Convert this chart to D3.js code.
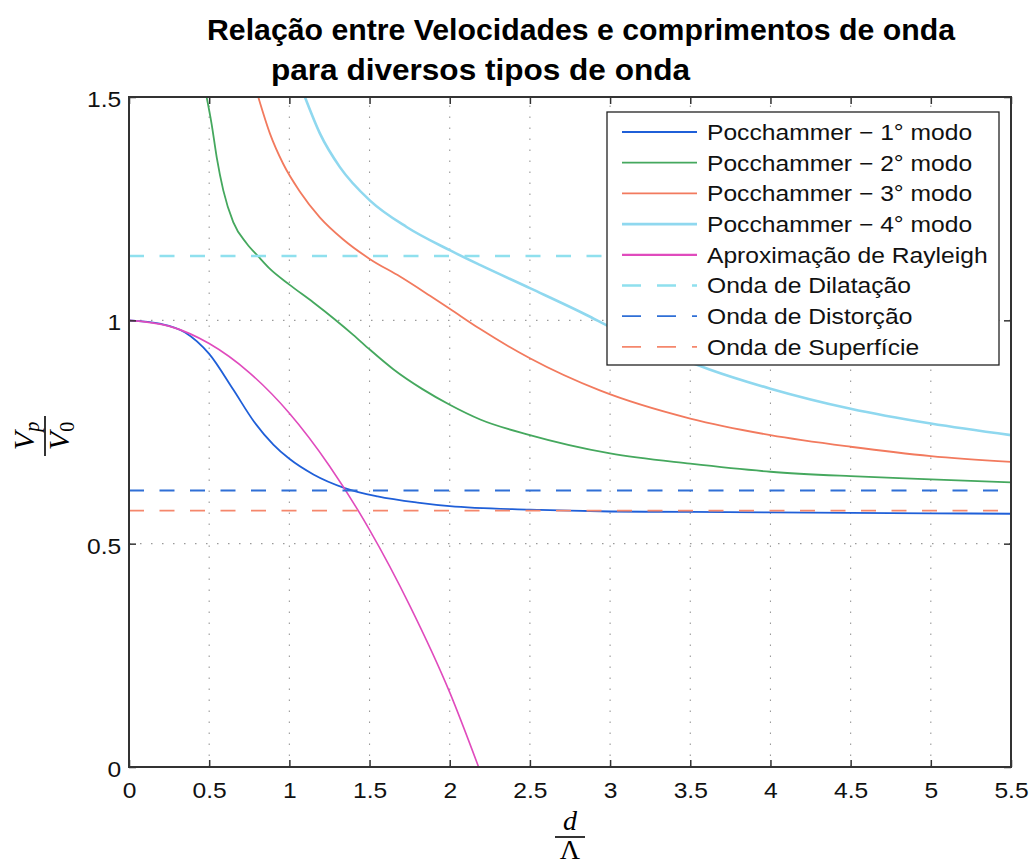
<!DOCTYPE html>
<html>
<head>
<meta charset="utf-8">
<script src="https://cdn.jsdelivr.net/npm/d3@7"></script>
<style>
  body { margin: 0; background: #fff; }
  svg { display: block; }
</style>
</head>
<body>
<svg id="chart" width="1034" height="866"></svg>
<script>
// ---- data: phase velocity ratio Vp/V0 against d/Λ ----
const xTickValues = [0, 0.5, 1, 1.5, 2, 2.5, 3, 3.5, 4, 4.5, 5, 5.5];
const xTickLabels = ["0", "0.5", "1", "1.5", "2", "2.5", "3", "3.5", "4", "4.5", "5", "5.5"];
const yTickValues = [0, 0.5, 1, 1.5];
const yTickLabels = ["0", "0.5", "1", "1.5"];

// Pochhammer modes
const mode1X = [0, 0.2, 0.35, 0.5, 0.65, 0.78, 0.9, 1.0, 1.15, 1.35, 1.55, 1.8, 2.0, 2.5, 3.0, 3.5, 4.0, 4.5, 5.0, 5.5];
const mode1Y = [1.0, 0.992, 0.973, 0.925, 0.845, 0.773, 0.722, 0.690, 0.655, 0.624, 0.606, 0.592, 0.584, 0.576, 0.572, 0.571, 0.570, 0.569, 0.568, 0.567];

const mode2X = [0.484, 0.515, 0.547, 0.588, 0.65, 0.734, 0.806, 0.879, 1.0, 1.15, 1.284, 1.4, 1.5, 1.65, 1.83, 2.0, 2.19, 2.5, 3.0, 3.5, 4.0, 4.5, 5.0, 5.5];
const mode2Y = [1.5, 1.44, 1.365, 1.291, 1.220, 1.172, 1.143, 1.115, 1.080, 1.040, 1.002, 0.967, 0.935, 0.890, 0.846, 0.811, 0.778, 0.743, 0.702, 0.679, 0.661, 0.651, 0.644, 0.637];

const mode3X = [0.806, 0.879, 0.962, 1.066, 1.191, 1.336, 1.503, 1.69, 1.877, 2.0, 2.188, 2.5, 2.936, 3.5, 4.0, 4.5, 5.0, 5.5];
const mode3Y = [1.5, 1.418, 1.350, 1.288, 1.230, 1.181, 1.137, 1.098, 1.055, 1.026, 0.981, 0.915, 0.843, 0.780, 0.743, 0.717, 0.696, 0.683];

const mode4X = [1.097, 1.191, 1.315, 1.503, 1.731, 2.0, 2.188, 2.5, 2.853, 3.0, 3.25, 3.5, 3.62, 4.0, 4.5, 5.0, 5.5];
const mode4Y = [1.5, 1.418, 1.343, 1.268, 1.209, 1.157, 1.124, 1.072, 1.012, 0.985, 0.943, 0.906, 0.890, 0.847, 0.802, 0.769, 0.743];

// Rayleigh approximation
const rayleighX = [0, 0.25, 0.5, 0.75, 1.0, 1.25, 1.5, 1.75, 2.0, 2.18];
const rayleighY = [1.0, 0.987, 0.948, 0.883, 0.792, 0.674, 0.531, 0.362, 0.167, 0.0];

// bulk wave levels
const dilatacaoLevel = 1.144;
const distorcaoLevel = 0.619;
const superficieLevel = 0.574;

const seriesLabels = [
  "Pocchammer \u2212 1\u00b0 modo",
  "Pocchammer \u2212 2\u00b0 modo",
  "Pocchammer \u2212 3\u00b0 modo",
  "Pocchammer \u2212 4\u00b0 modo",
  "Aproximação de Rayleigh",
  "Onda de Dilatação",
  "Onda de Distorção",
  "Onda de Superfície"
];
const seriesColors = ["#1f5fd8", "#45a85e", "#f27a5e", "#8fd8ef", "#e04bbd", "#8fe0ee", "#2f6fd6", "#f5876c"];

const titleLines = ["Relação entre Velocidades e comprimentos de onda", "para diversos tipos de onda"];

// ---- layout ----
const svg = d3.select("#chart");
const plotLeft = 129, plotRight = 1011, plotTop = 97, plotBottom = 767;
const x = d3.scaleLinear().domain([0, 5.5]).range([plotLeft, plotRight]);
const y = d3.scaleLinear().domain([0, 1.5]).range([plotBottom, plotTop]);
const stretch = 1.12;
const sans = "'Liberation Sans', Arial, Helvetica, sans-serif";
const serif = "'Liberation Serif', 'Times New Roman', serif";

svg.append("defs").append("clipPath").attr("id", "plotClip")
  .append("rect").attr("x", plotLeft).attr("y", plotTop)
  .attr("width", plotRight - plotLeft).attr("height", plotBottom - plotTop);

// title
svg.append("text").attr("x", 207).attr("y", 40)
  .attr("textLength", 748).attr("lengthAdjust", "spacingAndGlyphs")
  .style("font-family", sans).style("font-weight", "bold").style("font-size", "30px")
  .text(titleLines[0]);
svg.append("text").attr("x", 271).attr("y", 80)
  .attr("textLength", 419).attr("lengthAdjust", "spacingAndGlyphs")
  .style("font-family", sans).style("font-weight", "bold").style("font-size", "30px")
  .text(titleLines[1]);

// dotted grid
const grid = svg.append("g").attr("stroke", "#9a9a9a").attr("stroke-width", 1.1)
  .attr("stroke-dasharray", "1.5,9.5").attr("fill", "none");
grid.selectAll("line.gx").data(xTickValues.slice(1, -1)).join("line")
  .attr("class", "gx")
  .attr("x1", d => x(d)).attr("x2", d => x(d)).attr("y1", plotBottom).attr("y2", plotTop);
grid.selectAll("line.gy").data(yTickValues.slice(1, -1)).join("line")
  .attr("class", "gy")
  .attr("y1", d => y(d)).attr("y2", d => y(d)).attr("x1", plotLeft).attr("x2", plotRight);

// curves
const zip = (xs, ys) => xs.map((v, i) => [v, ys[i]]);
const line = d3.line().x(d => x(d[0])).y(d => y(d[1])).curve(d3.curveMonotoneX);
const plot = svg.append("g").attr("clip-path", "url(#plotClip)");

const curves = [
  { pts: zip(mode1X, mode1Y), color: seriesColors[0], w: 1.8 },
  { pts: zip(mode2X, mode2Y), color: seriesColors[1], w: 1.8 },
  { pts: zip(mode3X, mode3Y), color: seriesColors[2], w: 1.8 },
  { pts: zip(mode4X, mode4Y), color: seriesColors[3], w: 2.6 },
  { pts: zip(rayleighX, rayleighY), color: seriesColors[4], w: 1.6 }
];
curves.forEach(c => {
  plot.append("path").datum(c.pts).attr("d", line)
    .attr("fill", "none").attr("stroke", c.color).attr("stroke-width", c.w)
    .attr("stroke-linejoin", "round");
});

const levels = [
  { v: dilatacaoLevel, color: seriesColors[5], w: 2.4 },
  { v: distorcaoLevel, color: seriesColors[6], w: 1.8 },
  { v: superficieLevel, color: seriesColors[7], w: 1.8 }
];
levels.forEach(l => {
  plot.append("line").attr("x1", x(0)).attr("x2", x(5.5))
    .attr("y1", y(l.v)).attr("y2", y(l.v))
    .attr("stroke", l.color).attr("stroke-width", l.w).attr("stroke-dasharray", "15,15.5");
});

// axes with inward ticks on all sides
const axisColor = "#333";
const gx = svg.append("g").attr("transform", `translate(0,${plotBottom})`)
  .call(d3.axisBottom(x).tickValues(xTickValues).tickFormat((d, i) => xTickLabels[i]).tickSizeInner(-7).tickSizeOuter(0));
gx.selectAll("text").attr("y", 31).attr("dy", 0).attr("transform", `scale(${stretch},1)`);
const gy = svg.append("g").attr("transform", `translate(${plotLeft},0)`)
  .call(d3.axisLeft(y).tickValues(yTickValues).tickFormat((d, i) => yTickLabels[i]).tickSizeInner(-7).tickSizeOuter(0));
gy.selectAll("text").attr("x", -7).attr("dy", "0.43em").attr("transform", `scale(${stretch},1)`);
const gt = svg.append("g").attr("transform", `translate(0,${plotTop})`)
  .call(d3.axisTop(x).tickValues(xTickValues).tickFormat("").tickSizeInner(-7).tickSizeOuter(0));
const gr = svg.append("g").attr("transform", `translate(${plotRight},0)`)
  .call(d3.axisRight(y).tickValues(yTickValues).tickFormat("").tickSizeInner(-7).tickSizeOuter(0));
[gx, gy, gt, gr].forEach(g => {
  g.select(".domain").remove();
  g.selectAll("line").attr("stroke", axisColor).attr("stroke-width", 1.5);
  g.selectAll("text").style("font-family", sans).style("font-size", "22px").attr("fill", "#111");
});
svg.append("rect").attr("x", plotLeft).attr("y", plotTop)
  .attr("width", plotRight - plotLeft).attr("height", plotBottom - plotTop)
  .attr("fill", "none").attr("stroke", axisColor).attr("stroke-width", 2);

// y label: Vp / V0
const yl = svg.append("g").attr("transform", "translate(45,436) rotate(-90)")
  .style("font-family", serif).style("font-size", "30px");
const num = yl.append("text").attr("x", 0).attr("y", -11).attr("text-anchor", "middle");
num.append("tspan").style("font-style", "italic").text("V");
num.append("tspan").attr("dy", 5).style("font-style", "italic").style("font-size", "20px").text("p");
yl.append("line").attr("x1", -20).attr("x2", 20).attr("y1", 0).attr("y2", 0)
  .attr("stroke", "#000").attr("stroke-width", 1.6);
const den = yl.append("text").attr("x", 0).attr("y", 24).attr("text-anchor", "middle");
den.append("tspan").style("font-style", "italic").text("V");
den.append("tspan").attr("dy", 5).style("font-size", "20px").text("0");

// x label: d / Λ
const xl = svg.append("g").attr("transform", "translate(570,0)")
  .style("font-family", serif).style("font-size", "28px");
xl.append("text").attr("x", 0).attr("y", 830).attr("text-anchor", "middle").style("font-style", "italic").text("d");
xl.append("line").attr("x1", -15).attr("x2", 15).attr("y1", 837).attr("y2", 837)
  .attr("stroke", "#000").attr("stroke-width", 1.6);
xl.append("text").attr("x", 0).attr("y", 859).attr("text-anchor", "middle").text("\u039B");

// legend
const legend = svg.append("g");
legend.append("rect").attr("x", 607).attr("y", 112).attr("width", 392).attr("height", 253)
  .attr("fill", "#fff").attr("stroke", "#222").attr("stroke-width", 1.3);
const legendDash = [null, null, null, null, null, "19,16", "19,16", "19,16"];
const legendWidth = [1.8, 1.8, 1.8, 2.6, 2.2, 2.4, 1.8, 1.8];
seriesLabels.forEach((label, i) => {
  const cy = 132 + i * 30.7;
  legend.append("line").attr("x1", 622).attr("x2", 697).attr("y1", cy).attr("y2", cy)
    .attr("stroke", seriesColors[i]).attr("stroke-width", legendWidth[i])
    .attr("stroke-dasharray", legendDash[i]);
  legend.append("g").attr("transform", `translate(707,${cy + 7.8}) scale(${stretch},1)`)
    .append("text").style("font-family", sans).style("font-size", "22px").attr("fill", "#111").text(label);
});
</script>
</body>
</html>
